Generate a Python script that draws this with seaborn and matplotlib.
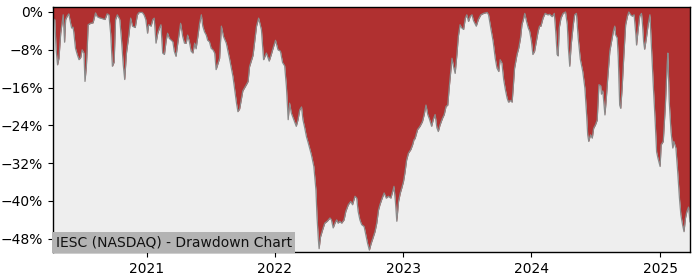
import matplotlib
matplotlib.use("Agg")
import matplotlib.pyplot as plt
import matplotlib.dates as mdates
from matplotlib.ticker import MultipleLocator, FuncFormatter
import seaborn as sns
import pandas as pd

title_text = "IESC (NASDAQ) - Drawdown Chart"

dates = [
    "2020-04-10", "2020-04-15", "2020-04-19", "2020-04-23", "2020-04-27", "2020-05-02", "2020-05-06",
    "2020-05-09", "2020-05-13", "2020-05-16", "2020-05-21", "2020-05-25", "2020-05-28", "2020-06-02",
    "2020-06-06", "2020-06-08", "2020-06-13", "2020-06-18", "2020-06-23", "2020-06-28", "2020-07-02",
    "2020-07-07", "2020-07-10", "2020-07-14", "2020-07-17", "2020-07-19", "2020-07-26", "2020-08-02",
    "2020-08-09", "2020-08-14", "2020-08-19", "2020-08-28", "2020-09-05", "2020-09-11", "2020-09-16",
    "2020-09-21", "2020-09-26", "2020-10-01", "2020-10-05", "2020-10-10", "2020-10-17", "2020-10-22",
    "2020-10-27", "2020-10-31", "2020-11-05", "2020-11-12", "2020-11-17", "2020-11-22", "2020-11-30",
    "2020-12-06", "2020-12-11", "2020-12-20", "2020-12-25", "2020-12-30",
    "2021-01-04", "2021-01-07", "2021-01-14", "2021-01-19", "2021-01-23", "2021-01-28", "2021-02-02",
    "2021-02-07", "2021-02-11", "2021-02-16", "2021-02-21", "2021-02-26", "2021-03-02", "2021-03-07",
    "2021-03-17", "2021-03-21", "2021-03-26", "2021-03-31", "2021-04-08", "2021-04-14", "2021-04-19",
    "2021-04-24", "2021-04-28", "2021-05-03", "2021-05-08", "2021-05-13", "2021-05-18", "2021-05-22",
    "2021-05-27", "2021-06-01", "2021-06-06", "2021-06-10", "2021-06-15", "2021-06-20", "2021-06-24",
    "2021-06-29", "2021-07-04", "2021-07-09", "2021-07-14", "2021-07-18", "2021-07-23", "2021-07-28",
    "2021-08-02", "2021-08-08", "2021-08-16", "2021-08-25", "2021-09-04", "2021-09-14", "2021-09-18",
    "2021-09-23", "2021-10-02", "2021-10-12", "2021-10-17", "2021-10-21", "2021-10-31", "2021-11-10",
    "2021-11-16", "2021-11-24", "2021-11-30", "2021-12-08", "2021-12-16", "2021-12-22", "2021-12-27",
    "2022-01-03", "2022-01-10", "2022-01-17", "2022-01-23", "2022-01-29", "2022-02-03", "2022-02-08",
    "2022-02-12", "2022-02-17", "2022-02-24", "2022-03-03", "2022-03-08", "2022-03-13", "2022-03-18",
    "2022-03-22", "2022-03-27", "2022-04-01", "2022-04-06", "2022-04-15", "2022-04-22", "2022-04-28",
    "2022-05-01", "2022-05-05", "2022-05-07", "2022-05-11", "2022-05-17", "2022-05-23", "2022-05-30",
    "2022-06-07", "2022-06-11", "2022-06-16", "2022-06-21", "2022-06-26", "2022-06-30", "2022-07-05",
    "2022-07-10", "2022-07-17", "2022-07-22", "2022-07-29", "2022-08-05", "2022-08-10", "2022-08-17",
    "2022-08-22", "2022-08-26", "2022-08-31", "2022-09-05", "2022-09-12", "2022-09-17", "2022-09-22",
    "2022-09-27", "2022-10-02", "2022-10-07", "2022-10-13", "2022-10-18", "2022-10-23", "2022-10-27",
    "2022-11-01", "2022-11-08", "2022-11-14", "2022-11-20", "2022-11-27", "2022-12-03", "2022-12-06",
    "2022-12-10", "2022-12-14", "2022-12-19", "2022-12-24", "2022-12-28",
    "2023-01-02", "2023-01-06", "2023-01-11", "2023-01-16", "2023-01-23", "2023-01-28", "2023-02-01",
    "2023-02-04", "2023-02-11", "2023-02-18", "2023-02-25", "2023-03-02", "2023-03-07", "2023-03-12",
    "2023-03-17", "2023-03-23", "2023-03-28", "2023-04-02", "2023-04-07", "2023-04-11", "2023-04-16",
    "2023-04-23", "2023-04-28", "2023-05-03", "2023-05-08", "2023-05-12", "2023-05-16", "2023-05-20",
    "2023-05-24", "2023-05-29", "2023-06-03", "2023-06-07", "2023-06-12", "2023-06-17", "2023-06-22",
    "2023-06-27", "2023-07-01", "2023-07-06", "2023-07-11", "2023-07-16", "2023-07-20", "2023-07-28",
    "2023-08-03", "2023-08-10", "2023-08-18", "2023-08-28", "2023-09-01", "2023-09-08", "2023-09-14",
    "2023-09-20", "2023-09-25", "2023-09-30", "2023-10-04", "2023-10-09", "2023-10-14", "2023-10-19",
    "2023-10-24", "2023-10-28", "2023-11-02", "2023-11-07", "2023-11-10", "2023-11-14", "2023-11-21",
    "2023-11-26", "2023-12-01", "2023-12-05", "2023-12-10", "2023-12-13", "2023-12-18", "2023-12-23",
    "2023-12-27",
    "2024-01-01", "2024-01-05", "2024-01-10", "2024-01-15", "2024-01-20", "2024-01-24", "2024-01-28",
    "2024-02-03", "2024-02-09", "2024-02-16", "2024-02-22", "2024-02-29", "2024-03-06", "2024-03-10",
    "2024-03-14", "2024-03-17", "2024-03-20", "2024-03-25", "2024-03-31", "2024-04-07", "2024-04-12",
    "2024-04-15", "2024-04-19", "2024-04-23", "2024-04-29", "2024-05-03", "2024-05-08", "2024-05-13",
    "2024-05-19", "2024-05-26", "2024-06-01", "2024-06-06", "2024-06-09", "2024-06-12", "2024-06-17",
    "2024-06-22", "2024-06-26", "2024-07-01", "2024-07-06", "2024-07-11", "2024-07-16", "2024-07-18",
    "2024-07-22", "2024-07-28", "2024-08-01", "2024-08-05", "2024-08-11", "2024-08-16", "2024-08-21",
    "2024-08-25", "2024-08-27", "2024-09-01", "2024-09-04", "2024-09-08", "2024-09-11", "2024-09-15",
    "2024-09-20", "2024-09-25", "2024-09-30", "2024-10-04", "2024-10-09", "2024-10-14", "2024-10-19",
    "2024-10-24", "2024-10-26", "2024-10-30", "2024-11-04", "2024-11-09", "2024-11-12", "2024-11-15",
    "2024-11-18", "2024-11-23", "2024-11-28", "2024-12-03", "2024-12-08", "2024-12-13", "2024-12-18",
    "2024-12-22", "2024-12-26",
    "2025-01-01", "2025-01-04", "2025-01-10", "2025-01-16", "2025-01-21", "2025-01-23", "2025-01-27",
    "2025-02-01", "2025-02-06", "2025-02-09", "2025-02-15", "2025-02-20", "2025-02-25", "2025-03-01",
    "2025-03-06", "2025-03-10", "2025-03-14", "2025-03-18", "2025-03-23", "2025-03-27",
]

drawdown = [
    -1.5, -1.6, -8.0, -11.2, -9.8, -4.5, -2.3,
    -0.6, -6.4, -1.6, -0.8, -0.4, -1.6, -3.4,
    -3.2, -4.2, -7.7, -9.0, -10.1, -9.6, -8.0,
    -8.7, -14.7, -11.5, -6.6, -2.7, -2.4, -2.3,
    -0.2, -1.0, -1.2, -1.4, -1.6, -0.4, -0.6,
    -4.5, -11.5, -10.6, -1.6, -0.6, -1.6, -6.0,
    -11.3, -14.3, -8.7, -4.8, -1.3, -3.0, -3.3,
    -0.6, -0.1, -0.1, -0.6, -1.6,
    -4.5, -2.7, -3.0, -1.6, -1.3, -6.6, -4.5,
    -3.4, -2.7, -8.7, -9.0, -6.0, -4.5, -5.6,
    -6.3, -8.3, -9.4, -6.6, -2.4, -5.2, -6.6,
    -6.6, -4.9, -6.3, -8.3, -8.7, -6.6, -7.8,
    -5.2, -2.4, -0.6, -3.0, -4.2, -4.9, -6.0,
    -6.3, -7.7, -8.0, -8.7, -12.2, -11.0, -9.8,
    -3.0, -5.2, -6.6, -9.8, -13.7, -19.3, -21.1,
    -20.5, -16.7, -15.4, -14.7, -11.6, -9.2, -3.0,
    -1.3, -3.8, -10.1, -8.7, -10.4, -9.0, -7.7,
    -6.0, -8.0, -8.3, -10.7, -11.4, -15.8, -22.8,
    -19.3, -21.4, -22.8, -24.2, -22.8, -20.7, -20.1,
    -22.8, -24.5, -26.4, -27.7, -30.2, -32.7, -37.7,
    -43.3, -48.3, -50.1, -47.6, -46.1, -44.7, -44.3,
    -43.6, -44.0, -45.7, -44.7, -44.0, -44.7, -44.3,
    -44.7, -44.0, -42.2, -40.8, -40.1, -40.8, -39.0,
    -39.4, -42.2, -44.0, -45.0, -45.4, -47.2, -49.0,
    -50.4, -49.0, -47.9, -46.5, -44.7, -41.9, -40.8,
    -39.7, -38.3, -39.4, -39.0, -39.4, -37.8, -36.9,
    -40.1, -44.3, -40.1, -38.3, -37.3,
    -35.9, -34.1, -31.3, -29.9, -29.1, -28.1, -27.0,
    -26.8, -24.9, -24.2, -23.2, -21.7, -19.7, -21.7,
    -22.7, -24.2, -22.7, -21.7, -24.5, -25.3, -23.9,
    -22.5, -21.7, -20.0, -19.7, -16.1, -13.0, -9.8,
    -11.4, -13.0, -9.0, -5.2, -2.7, -3.4, -3.7,
    -1.3, -0.6, -2.0, -0.9, -0.6, -1.8, -3.0,
    -1.6, -0.6, -0.3, -0.1, -0.6, -3.7, -6.2,
    -9.8, -11.9, -12.6, -10.1, -10.8, -14.3, -16.5,
    -18.3, -19.1, -18.7, -19.1, -16.2, -11.9, -9.0,
    -7.6, -5.5, -2.7, -1.3, -0.3, -2.0, -3.4,
    -4.1,
    -6.2, -9.0, -8.3, -6.2, -4.1, -3.0, -3.0,
    -1.3, -0.3, -0.6, -0.5, -1.0, -0.3, -4.1,
    -9.0, -9.3, -3.4, -1.3, -0.3, 0.0, -2.7,
    -7.6, -11.5, -7.0, -2.7, -0.6, -0.3, -5.5,
    -10.0, -12.6, -16.1, -21.8, -26.0, -27.4, -26.0,
    -26.7, -24.6, -23.9, -22.9, -15.4, -15.6, -17.4,
    -16.7, -21.8, -18.3, -14.0, -8.3, -6.2, -4.1,
    -3.0, -4.8, -5.5, -9.7, -19.7, -20.4, -16.1,
    -9.0, -2.7, -0.9, 0.0, -0.6, -0.9, -0.6,
    -4.8, -7.0, -4.1, -0.9, -0.3, -2.7, -6.2,
    -7.9, -5.5, -2.7, -0.6, -8.3, -16.1, -23.2,
    -29.6, -31.0,
    -32.7, -28.1, -27.4, -19.7, -11.2, -8.7, -19.0,
    -25.3, -28.8, -27.4, -28.8, -33.8, -39.4, -42.9,
    -45.1, -46.5, -43.7, -42.3, -41.3, -44.4,
]

y_ticks = [0, -8, -16, -24, -32, -40, -48]

df = pd.DataFrame({"date": pd.to_datetime(dates), "drawdown": drawdown})

fig = plt.figure(figsize=(7, 2.8), dpi=100)
ax = fig.add_axes([0.0757, 0.1, 0.91, 0.875])
ax.set_facecolor("#eeeeee")

ax.fill_between(df["date"], df["drawdown"], 5, color="#b03030", linewidth=0)
sns.lineplot(data=df, x="date", y="drawdown", ax=ax, color="#8a8a8a", linewidth=0.9)

ax.set_xlim(df["date"].iloc[0], df["date"].iloc[-1])
ax.set_ylim(-50.8, 1.05)
ax.set_yticks(y_ticks)
ax.yaxis.set_major_formatter(FuncFormatter(lambda v, p: f"{int(round(v))}%".replace("-", "\u2212")))
ax.xaxis.set_major_locator(mdates.YearLocator())
ax.xaxis.set_major_formatter(mdates.DateFormatter("%Y"))
ax.set_xlabel("")
ax.set_ylabel("")
for s in ax.spines.values():
    s.set_color("black")
    s.set_linewidth(1.0)

ax.text(0.004, 0.012, title_text, transform=ax.transAxes, fontsize=10, ha="left", va="bottom",
        color="#111111", bbox=dict(facecolor="#b3b3b3", edgecolor="none", pad=2.5))

fig.savefig("out.png", dpi=100)
